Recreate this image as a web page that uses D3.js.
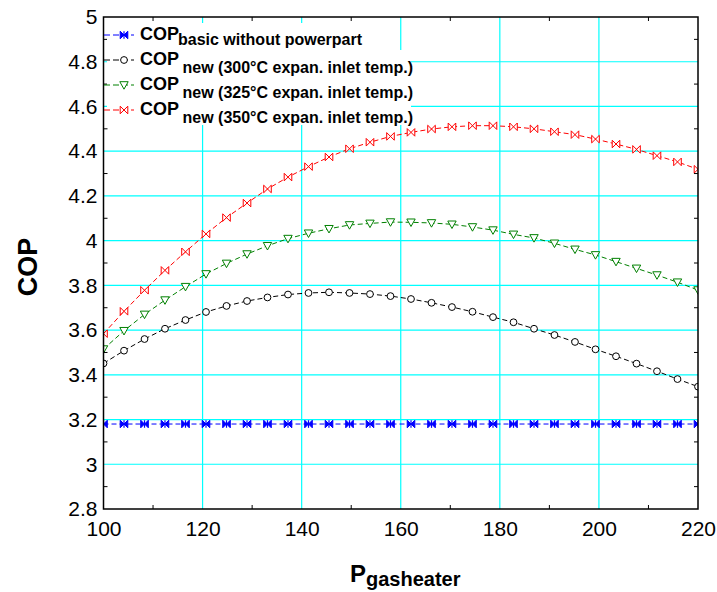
<!DOCTYPE html>
<html>
<head>
<meta charset="utf-8">
<script src="https://cdn.jsdelivr.net/npm/d3@7/dist/d3.min.js"></script>
<style>
  html, body { margin: 0; padding: 0; background: #fff; }
  svg { display: block; font-family: Arial, "Liberation Sans", sans-serif; }
</style>
</head>
<body>
<svg id="chart" width="717" height="592"></svg>
<script>
// Gas-heater power (x) and coefficient of performance (y) for each configuration
const pGasheater = [100, 104.14, 108.28, 112.41, 116.55, 120.69, 124.83, 128.97, 133.10, 137.24,
  141.38, 145.52, 149.66, 153.79, 157.93, 162.07, 166.21, 170.34, 174.48, 178.62,
  182.76, 186.90, 191.03, 195.17, 199.31, 203.45, 207.59, 211.72, 215.86, 220];

const copBasic = [3.18, 3.18, 3.18, 3.18, 3.18, 3.18, 3.18, 3.18, 3.18, 3.18,
  3.18, 3.18, 3.18, 3.18, 3.18, 3.18, 3.18, 3.18, 3.18, 3.18,
  3.18, 3.18, 3.18, 3.18, 3.18, 3.18, 3.18, 3.18, 3.18, 3.18];

const copNew300 = [3.451, 3.508, 3.560, 3.606, 3.645, 3.681, 3.708, 3.730, 3.746, 3.759,
  3.766, 3.769, 3.766, 3.761, 3.752, 3.739, 3.722, 3.703, 3.682, 3.658,
  3.635, 3.606, 3.578, 3.547, 3.514, 3.483, 3.450, 3.416, 3.381, 3.347];

const copNew325 = [3.515, 3.597, 3.670, 3.734, 3.794, 3.851, 3.898, 3.940, 3.977, 4.009,
  4.033, 4.053, 4.070, 4.077, 4.083, 4.082, 4.079, 4.073, 4.061, 4.047,
  4.028, 4.012, 3.988, 3.961, 3.936, 3.906, 3.876, 3.846, 3.814, 3.779];

const copNew350 = [3.584, 3.684, 3.778, 3.867, 3.950, 4.030, 4.103, 4.168, 4.231, 4.284,
  4.331, 4.374, 4.411, 4.440, 4.466, 4.484, 4.499, 4.509, 4.514, 4.514,
  4.509, 4.500, 4.487, 4.474, 4.454, 4.432, 4.408, 4.380, 4.352, 4.319];

const xTicks = [100, 120, 140, 160, 180, 200, 220];
const xMinorTicks = [110, 130, 150, 170, 190, 210];
const yTicks = [2.8, 3, 3.2, 3.4, 3.6, 3.8, 4, 4.2, 4.4, 4.6, 4.8, 5];
const yMinorTicks = [2.9, 3.1, 3.3, 3.5, 3.7, 3.9, 4.1, 4.3, 4.5, 4.7, 4.9];

const seriesNames = ["basic without powerpart", "new (300°C expan. inlet temp.)",
  "new (325°C expan. inlet temp.)", "new (350°C expan. inlet temp.)"];
const seriesColors = ["#0000ff", "#000000", "#008000", "#ff0000"];
const seriesMarkers = ["bowtieFilled", "circle", "triangleDown", "bowtie"];
const seriesValues = [copBasic, copNew300, copNew325, copNew350];

const svg = d3.select("#chart");
const plot = { left: 103.5, right: 698, top: 17, bottom: 509 };

const x = d3.scaleLinear().domain([100, 220]).range([plot.left, plot.right]);
const y = d3.scaleLinear().domain([2.8, 5]).range([plot.bottom, plot.top]);

// marker shapes, centred on the origin
function markerPath(kind) {
  const s = 3.8;
  if (kind === "triangleDown") return `M${-4.2},${-3.3}L${4.2},${-3.3}L0,${4.2}Z`;
  return `M${-s},${-s}L${s},${s}L${s},${-s}L${-s},${s}Z`;
}

function drawMarker(g, kind, color) {
  if (kind === "circle") {
    g.append("circle").attr("r", 3.4).attr("fill", "#fff")
      .attr("stroke", color).attr("stroke-width", 1);
  } else if (kind === "bowtieFilled") {
    g.append("path").attr("d", markerPath(kind)).attr("fill", color)
      .attr("stroke", color).attr("stroke-width", 1).attr("stroke-linejoin", "miter");
    g.append("line").attr("x1", 0).attr("x2", 0).attr("y1", -3.8).attr("y2", 3.8)
      .attr("stroke", color).attr("stroke-width", 1.2);
  } else {
    g.append("path").attr("d", markerPath(kind)).attr("fill", "#fff")
      .attr("stroke", color).attr("stroke-width", 1);
  }
}

// background
svg.append("rect").attr("width", 717).attr("height", 592).attr("fill", "#fff");

svg.append("defs").append("clipPath").attr("id", "plotClip")
  .append("rect")
  .attr("x", plot.left).attr("y", plot.top)
  .attr("width", plot.right - plot.left).attr("height", plot.bottom - plot.top);

// grid
const grid = svg.append("g").attr("stroke", "#00ffff").attr("stroke-width", 1.2);
grid.selectAll(".vg").data(xTicks.slice(1, -1)).join("line")
  .attr("x1", d => x(d)).attr("x2", d => x(d))
  .attr("y1", plot.top).attr("y2", plot.bottom);
grid.selectAll(".hg").data(yTicks.slice(1, -1)).join("line")
  .attr("y1", d => y(d)).attr("y2", d => y(d))
  .attr("x1", plot.left).attr("x2", plot.right);

// series
const seriesLayer = svg.append("g").attr("clip-path", "url(#plotClip)");
const line = d3.line().x((d, i) => x(pGasheater[i])).y(d => y(d));
seriesValues.forEach((vals, k) => {
  seriesLayer.append("path").datum(vals)
    .attr("d", line).attr("fill", "none")
    .attr("stroke", seriesColors[k]).attr("stroke-width", 1)
    .attr("stroke-dasharray", "5,3");
  vals.forEach((v, i) => {
    const g = seriesLayer.append("g")
      .attr("transform", `translate(${x(pGasheater[i])},${y(v)})`);
    drawMarker(g, seriesMarkers[k], seriesColors[k]);
  });
});

// axes: bottom/left with labels, top/right with minor ticks only
const tickLen = 4;
const xAxisB = d3.axisBottom(x).tickValues(xTicks).tickSize(0).tickPadding(12).tickFormat(d3.format("d"));
const gx = svg.append("g").attr("transform", `translate(0,${plot.bottom})`).call(xAxisB);
gx.select(".domain").remove();
gx.selectAll("text").attr("font-size", 21).attr("font-family", "Arial, 'Liberation Sans', sans-serif").attr("fill", "#000");

const yAxisL = d3.axisLeft(y).tickValues(yTicks).tickSize(0).tickPadding(6)
  .tickFormat(d => d3.format("")(+d.toFixed(1)));
const gy = svg.append("g").attr("transform", `translate(${plot.left},0)`).call(yAxisL);
gy.select(".domain").remove();
gy.selectAll("text").attr("font-size", 21).attr("font-family", "Arial, 'Liberation Sans', sans-serif").attr("fill", "#000");

const ticks = svg.append("g").attr("stroke", "#000").attr("stroke-width", 1);
xMinorTicks.forEach(t => {
  ticks.append("line").attr("x1", x(t)).attr("x2", x(t)).attr("y1", plot.bottom).attr("y2", plot.bottom - tickLen);
  ticks.append("line").attr("x1", x(t)).attr("x2", x(t)).attr("y1", plot.top).attr("y2", plot.top + tickLen);
});
yMinorTicks.forEach(t => {
  ticks.append("line").attr("y1", y(t)).attr("y2", y(t)).attr("x1", plot.left).attr("x2", plot.left + tickLen);
  ticks.append("line").attr("y1", y(t)).attr("y2", y(t)).attr("x1", plot.right).attr("x2", plot.right - tickLen);
});

// frame
svg.append("rect")
  .attr("x", plot.left).attr("y", plot.top)
  .attr("width", plot.right - plot.left).attr("height", plot.bottom - plot.top)
  .attr("fill", "none").attr("stroke", "#000").attr("stroke-width", 1.5);

// axis titles
const xTitle = svg.append("text").attr("x", 350).attr("y", 582)
  .attr("font-weight", "bold").attr("fill", "#000");
xTitle.append("tspan").attr("font-size", 24).text("P");
xTitle.append("tspan").attr("font-size", 20).attr("dy", 4).text("gasheater");

svg.append("text")
  .attr("transform", "translate(37,267) rotate(-90)")
  .attr("text-anchor", "middle")
  .attr("font-size", 27).attr("font-weight", "bold").attr("fill", "#000")
  .text("COP");

// legend
const legend = svg.append("g");
legend.append("rect").attr("x", 107).attr("y", 23).attr("width", 259).attr("height", 27).attr("fill", "#fff");
legend.append("rect").attr("x", 107).attr("y", 50).attr("width", 304).attr("height", 75).attr("fill", "#fff");

const rowY = [35, 60, 85, 110];
seriesNames.forEach((name, k) => {
  const cy = rowY[k];
  legend.append("line").attr("x1", 104).attr("x2", 134).attr("y1", cy).attr("y2", cy)
    .attr("stroke", seriesColors[k]).attr("stroke-width", 1).attr("stroke-dasharray", "6,3");
  const g = legend.append("g").attr("transform", `translate(124,${cy})`);
  drawMarker(g, seriesMarkers[k], seriesColors[k]);
  const t = legend.append("text").attr("x", 140).attr("y", cy + 5)
    .attr("font-weight", "bold").attr("fill", "#000");
  t.append("tspan").attr("font-size", 18).text("COP");
  t.append("tspan").attr("font-size", 16)
    .attr("x", k === 0 ? 178 : 182.5)
    .attr("dy", k === 0 ? 4.5 : 7.7)
    .text(name);
});
</script>
</body>
</html>
